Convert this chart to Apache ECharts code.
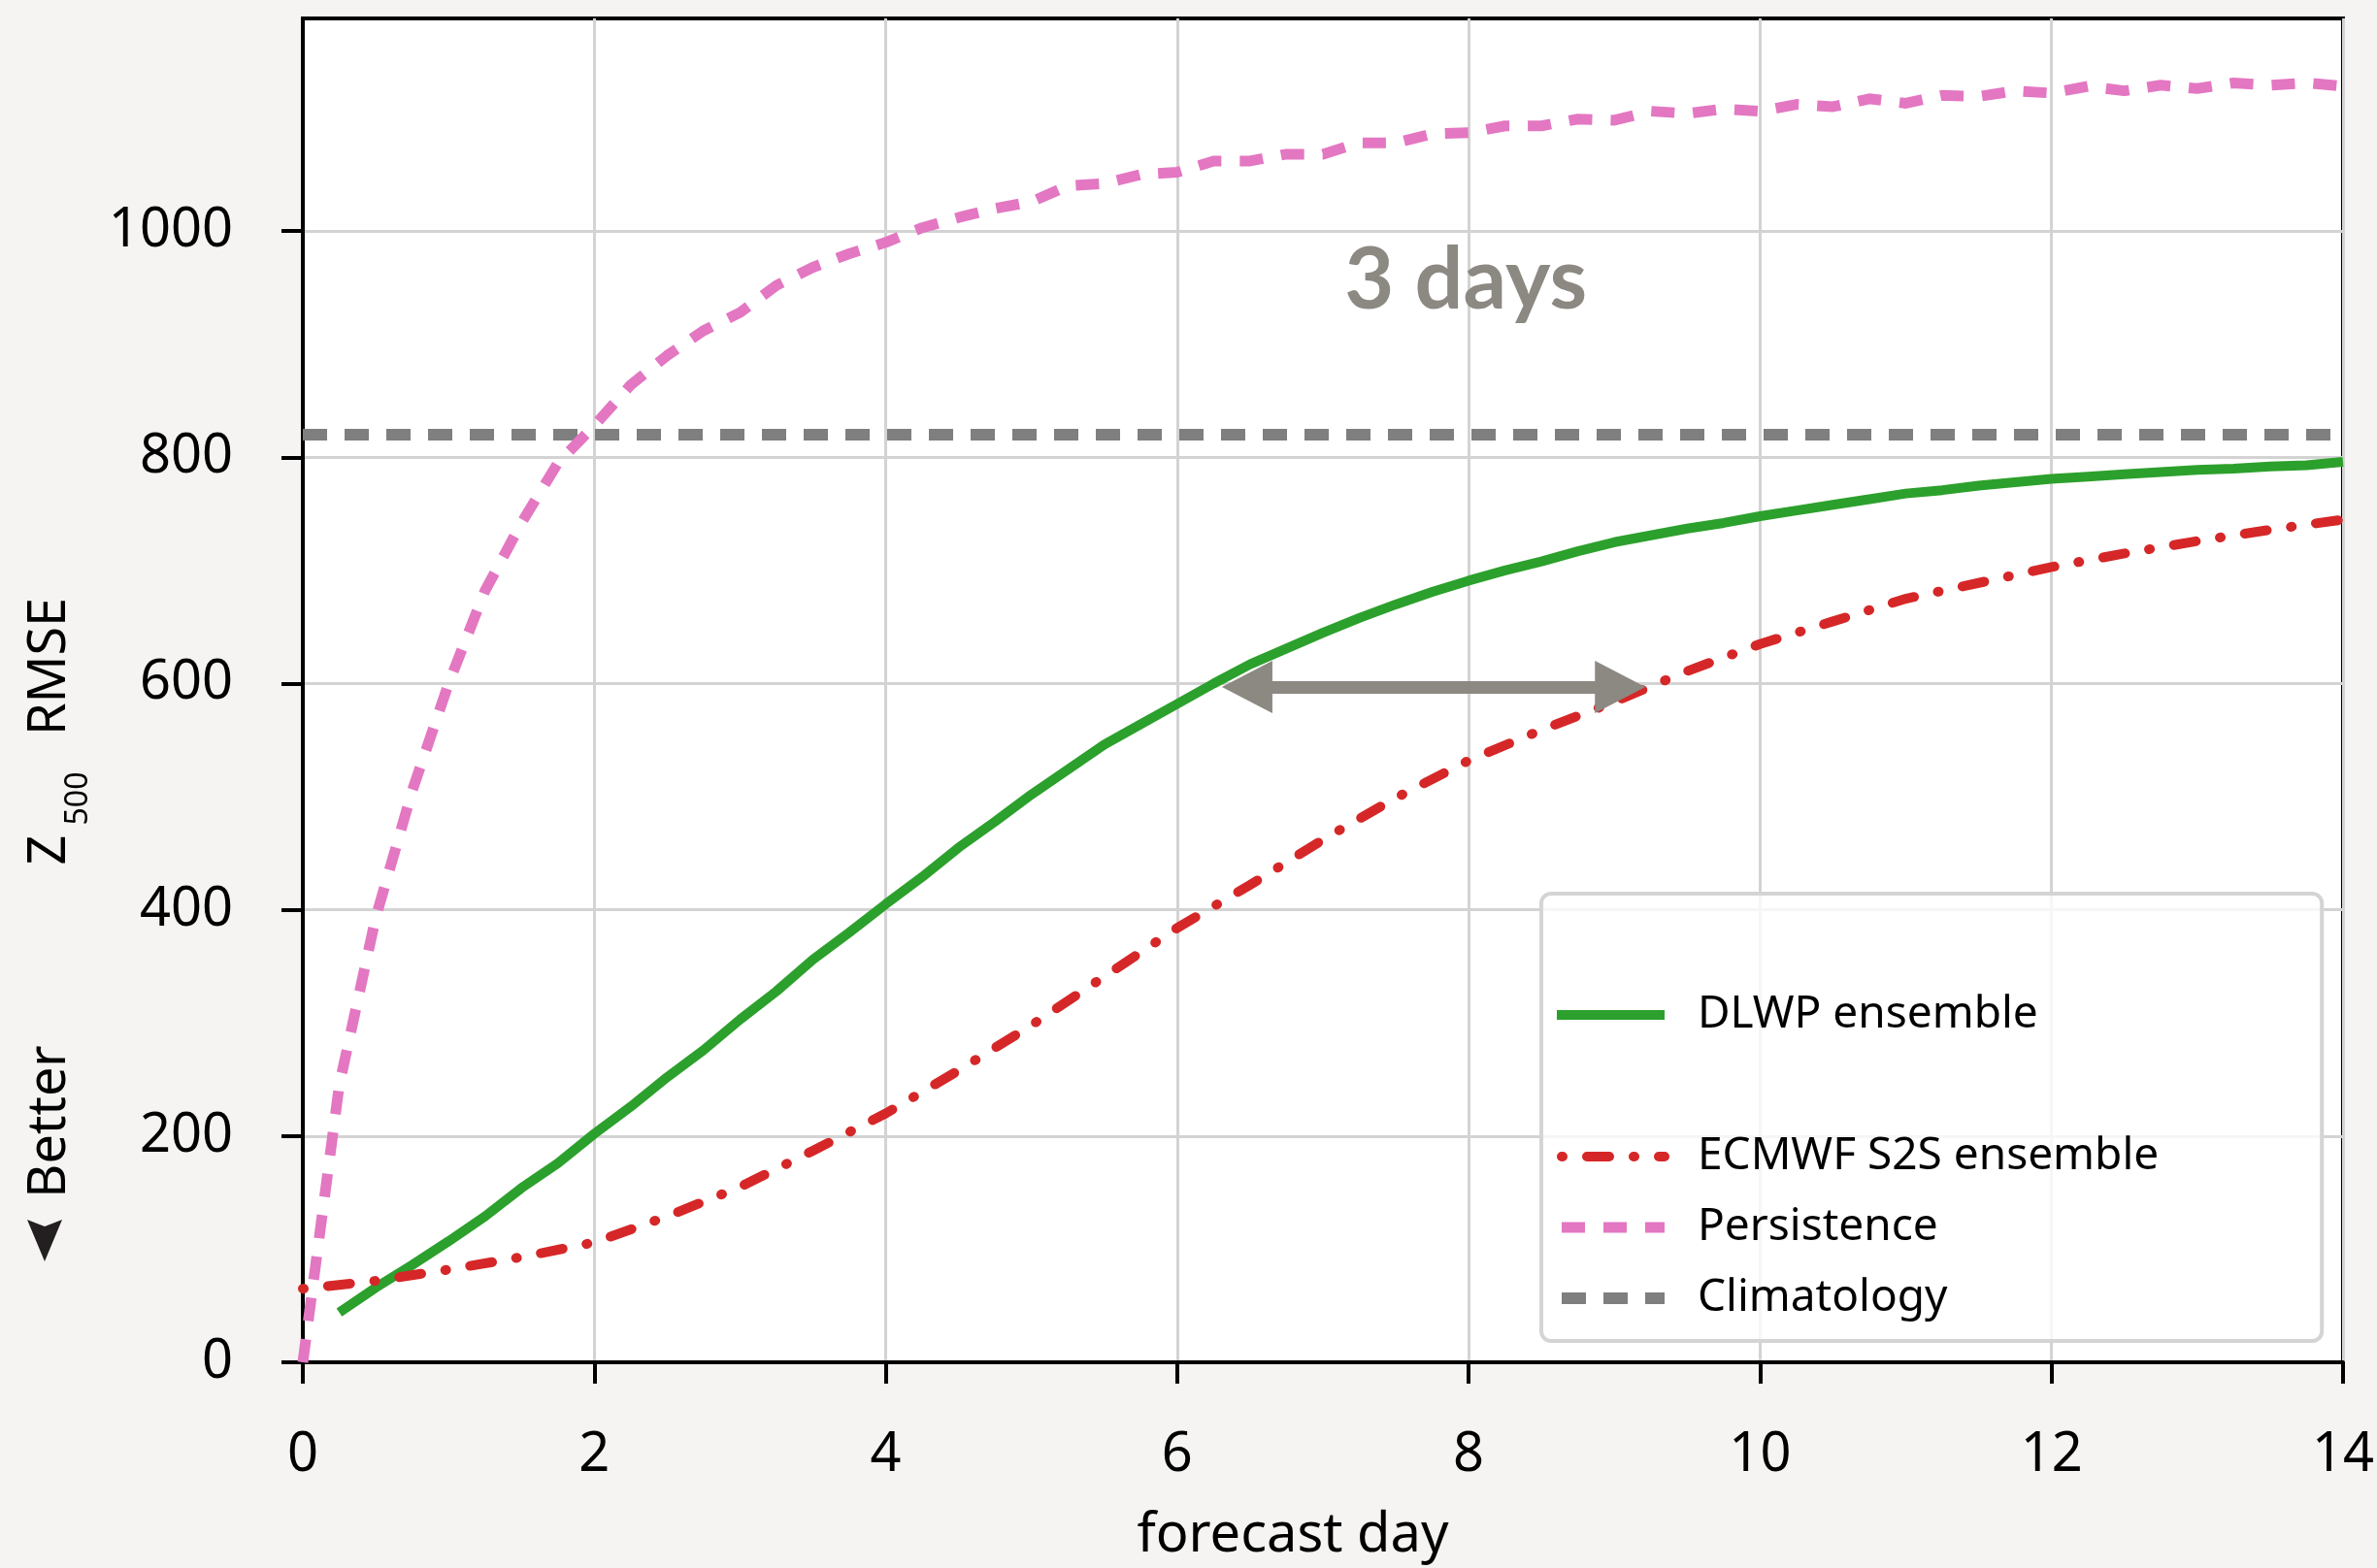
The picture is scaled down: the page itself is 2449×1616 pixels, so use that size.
<!DOCTYPE html>
<html>
<head>
<meta charset="utf-8">
<script src="https://cdn.jsdelivr.net/npm/echarts@6/dist/echarts.min.js"></script>
<style>
  html, body { margin: 0; padding: 0; background: #f5f4f2; }
  #chart { width: 2449px; height: 1616px; }
</style>
</head>
<body>
<div id="chart"></div>
<script>
// ---------------- data ----------------
const xTicks = [0, 2, 4, 6, 8, 10, 12, 14];
const yTicks = [0, 200, 400, 600, 800, 1000];

const persistenceDays = [0, 0.25, 0.5, 0.75, 1, 1.25, 1.5, 1.75, 2, 2.25, 2.5, 2.75, 3, 3.25, 3.5, 3.75,
  4, 4.25, 4.5, 4.75, 5, 5.25, 5.5, 5.75, 6, 6.25, 6.5, 6.75, 7, 7.25, 7.5, 7.75,
  8, 8.25, 8.5, 8.75, 9, 9.25, 9.5, 9.75, 10, 10.25, 10.5, 10.75, 11, 11.25, 11.5, 11.75,
  12, 12.25, 12.5, 12.75, 13, 13.25, 13.5, 13.75, 14];
const persistenceValues = [0, 245, 393, 505, 600, 682, 742, 795, 828, 864, 890, 912, 928, 952, 968, 980,
  990, 1003, 1012, 1020, 1026, 1040, 1042, 1050, 1052, 1062, 1062, 1068, 1068, 1078, 1078, 1086,
  1087, 1093, 1093, 1099, 1098, 1106, 1104, 1108, 1106, 1112, 1110, 1117, 1113, 1120, 1119, 1124,
  1122, 1128, 1124, 1129, 1126, 1131, 1129, 1131, 1128];

const dlwpDays = [0.25, 0.5, 0.75, 1, 1.25, 1.5, 1.75, 2, 2.25, 2.5, 2.75, 3, 3.25, 3.5, 3.75,
  4, 4.25, 4.5, 4.75, 5, 5.25, 5.5, 5.75, 6, 6.25, 6.5, 6.75, 7, 7.25, 7.5, 7.75,
  8, 8.25, 8.5, 8.75, 9, 9.25, 9.5, 9.75, 10, 10.25, 10.5, 10.75, 11, 11.25, 11.5, 11.75,
  12, 12.25, 12.5, 12.75, 13, 13.25, 13.5, 13.75, 14];
const dlwpValues = [44, 66, 86, 107, 129, 154, 176, 202, 226, 252, 276, 303, 328, 356, 380,
  405, 429, 455, 478, 502, 524, 546, 564, 582, 600, 617, 631, 645, 658, 670, 681,
  691, 700, 708, 717, 725, 731, 737, 742, 748, 753, 758, 763, 768, 771, 775, 778,
  781, 783, 785, 787, 789, 790, 792, 793, 796];

const ecmwfDays = [0, 0.5, 1, 1.5, 2, 2.5, 3, 3.5, 4, 4.5, 5, 5.5, 6, 6.5, 7, 7.5,
  8, 8.5, 9, 9.5, 10, 10.5, 11, 11.5, 12, 12.5, 13, 13.5, 14];
const ecmwfValues = [65, 72, 82, 93, 106, 129, 155, 187, 220, 258, 298, 341, 384, 422, 462, 499,
  532, 559, 584, 611, 635, 655, 675, 689, 703, 715, 726, 736, 745];

const climatologyDays = [0, 14];
const climatologyValues = [820, 820];

const arrowDays = [6.48, 9.04];
const arrowValue = 597;
const annotationText = '3 days';
const annotationDay = 7.98;
const annotationValue = 956;

const legendNames = [' ', 'DLWP ensemble', '  ', 'ECMWF S2S ensemble', 'Persistence', 'Climatology'];

// ---------------- helpers ----------------
const pairs = (xs, ys) => xs.map((x, i) => [x, ys[i]]);
const FONT = 'Noto Sans';

const chart = echarts.init(document.getElementById('chart'), null, { renderer: 'canvas' });

const legendData = legendNames.map(n => (n === 'ECMWF S2S ensemble'
  ? { name: n, lineStyle: { dashOffset: -5 } }
  : { name: n }));

const option = {
  backgroundColor: '#f5f4f2',
  animation: false,
  grid: {
    left: 312, right: 33, top: 19, bottom: 206,
    show: true, backgroundColor: '#ffffff', borderColor: '#000000', borderWidth: 4
  },
  xAxis: {
    type: 'value', min: 0, max: 14, interval: 2,
    name: 'forecast day', nameLocation: 'middle', nameGap: 151,
    nameTextStyle: { fontSize: 56, fontFamily: FONT, color: '#000', padding: [0, 62, 0, 0] },
    axisLine: { show: true, onZero: false, lineStyle: { color: '#000', width: 4 } },
    axisTick: { show: true, length: 22, lineStyle: { color: '#000', width: 4 } },
    axisLabel: { fontSize: 56, fontFamily: FONT, color: '#000', margin: 68 },
    splitLine: { show: true, lineStyle: { color: '#d3d3d3', width: 3 } }
  },
  yAxis: {
    type: 'value', min: 0, max: 1188, interval: 200,
    axisLine: { show: true, lineStyle: { color: '#000', width: 4 } },
    axisTick: { show: true, length: 22, lineStyle: { color: '#000', width: 4 }, customValues: yTicks },
    axisLabel: { fontSize: 56, fontFamily: FONT, color: '#000', margin: 72, customValues: yTicks,
      formatter: v => (yTicks.indexOf(v) >= 0 ? String(v) : '') },
    splitLine: { show: true, lineStyle: { color: '#d3d3d3', width: 3 } }
  },
  legend: {
    orient: 'vertical', left: 1588, top: 921,
    padding: [29, 168, 21, 10],
    itemWidth: 111, itemHeight: 14, itemGap: 27,
    backgroundColor: 'rgba(255,255,255,0.8)',
    borderColor: '#d4d4d4', borderWidth: 4, borderRadius: 10,
    selectedMode: false,
    itemStyle: { opacity: 0 },
    lineStyle: { width: 'inherit', type: 'inherit', cap: 'inherit', opacity: 1 },
    textStyle: { fontSize: 46, fontFamily: FONT, color: '#000', lineHeight: 46, padding: [0, 0, 0, 29] },
    data: legendData
  },
  graphic: [
    { type: 'text', x: 52, y: 687, rotation: Math.PI / 2, silent: true,
      style: { text: 'RMSE', fontSize: 54, fontFamily: FONT, fill: '#000', align: 'center', verticalAlign: 'middle' } },
    { type: 'text', x: 52, y: 876, rotation: Math.PI / 2, silent: true,
      style: { text: 'Z', fontSize: 54, fontFamily: FONT, fill: '#000', align: 'center', verticalAlign: 'middle' } },
    { type: 'text', x: 81, y: 823, rotation: Math.PI / 2, silent: true,
      style: { text: '500', fontSize: 32, fontFamily: FONT, fill: '#000', align: 'center', verticalAlign: 'middle' } },
    { type: 'text', x: 52, y: 1156, rotation: Math.PI / 2, silent: true,
      style: { text: 'Better', fontSize: 54, fontFamily: FONT, fill: '#000', align: 'center', verticalAlign: 'middle' } },
    { type: 'polygon', silent: true,
      shape: { points: [[46, 1300], [28, 1257], [46, 1264], [64, 1257]] },
      style: { fill: '#231f20' } }
  ],
  series: [
    { name: ' ', type: 'line', data: [], symbol: 'none', silent: true,
      lineStyle: { color: 'rgba(0,0,0,0)', width: 0 }, itemStyle: { color: 'rgba(0,0,0,0)' } },
    { name: '  ', type: 'line', data: [], symbol: 'none', silent: true,
      lineStyle: { color: 'rgba(0,0,0,0)', width: 0 }, itemStyle: { color: 'rgba(0,0,0,0)' } },
    {
      name: 'DLWP ensemble', type: 'line', symbol: 'none', silent: true, z: 3,
      data: pairs(dlwpDays, dlwpValues),
      itemStyle: { color: '#2ca02c' },
      lineStyle: { color: '#2ca02c', width: 10, type: 'solid' }
    },
    {
      name: 'ECMWF S2S ensemble', type: 'line', symbol: 'none', silent: true, z: 4,
      data: pairs(ecmwfDays, ecmwfValues),
      itemStyle: { color: '#d62728' },
      lineStyle: { color: '#d62728', width: 10, type: [1, 25, 23, 25], cap: 'round' }
    },
    {
      name: 'Climatology', type: 'line', symbol: 'none', silent: true, z: 5,
      data: pairs(climatologyDays, climatologyValues),
      itemStyle: { color: '#7f7f7f' },
      lineStyle: { color: '#7f7f7f', width: 12, type: [25, 18] },
      markLine: {
        silent: true, animation: false,
        symbol: ['triangle', 'triangle'], symbolSize: [54, 52],
        itemStyle: { color: '#8c8882' },
        lineStyle: { color: '#8c8882', width: 13, type: 'solid' },
        label: { show: false },
        emphasis: { disabled: true },
        data: [[{ coord: [arrowDays[0], arrowValue] }, { coord: [arrowDays[1], arrowValue] }]]
      },
      markPoint: {
        silent: true, animation: false,
        symbol: 'circle', symbolSize: 1,
        itemStyle: { color: 'rgba(0,0,0,0)' },
        label: { show: true, position: 'inside', formatter: annotationText,
          fontSize: 88, fontWeight: 'bold', fontFamily: 'Lato', color: '#8c8882' },
        data: [{ coord: [annotationDay, annotationValue] }]
      }
    },
    {
      name: 'Persistence', type: 'line', symbol: 'none', silent: true, z: 6,
      data: pairs(persistenceDays, persistenceValues),
      itemStyle: { color: '#e377c2' },
      lineStyle: { color: '#e377c2', width: 11, type: [24, 19] }
    }
  ]
};

chart.setOption(option);
</script>
</body>
</html>
